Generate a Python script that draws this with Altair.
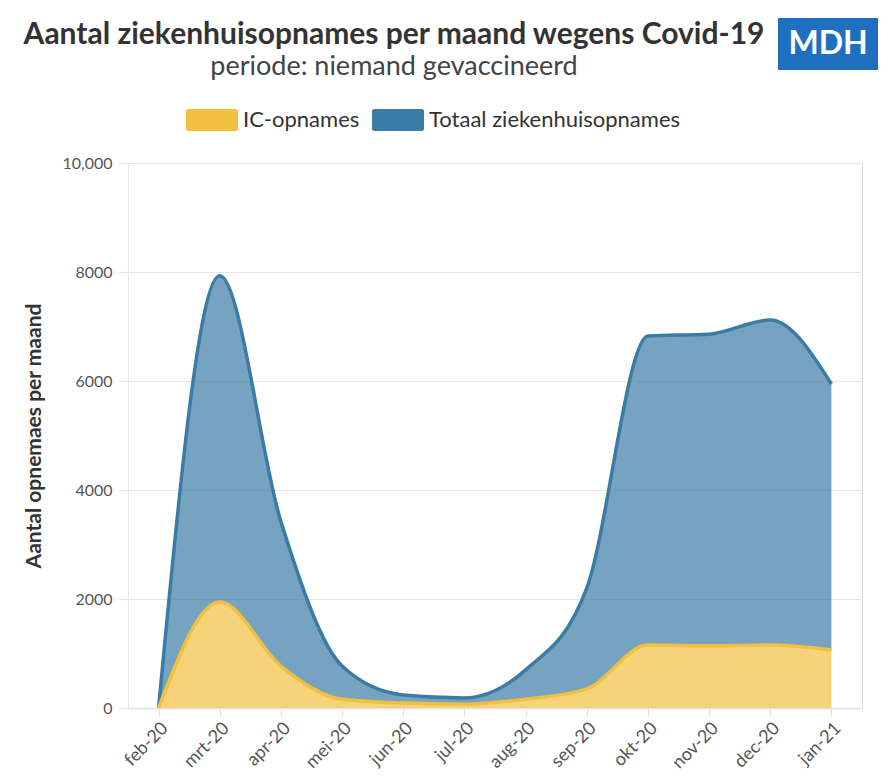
import altair as alt
import pandas as pd

months = ["feb-20", "mrt-20", "apr-20", "mei-20", "jun-20", "jul-20",
          "aug-20", "sep-20", "okt-20", "nov-20", "dec-20", "jan-21"]
totaal = [0, 7930, 3420, 770, 240, 185, 700, 2200, 6825, 6860, 7120, 5945]
ic = [0, 1945, 770, 160, 90, 70, 160, 350, 1155, 1140, 1155, 1065]

series_names = ["IC-opnames", "Totaal ziekenhuisopnames"]
colors = ["#f2c040", "#3a7ca5"]

rows = []
for m, t, i in zip(months, totaal, ic):
    rows.append({"maand": m, "serie": series_names[1], "waarde": t, "basis": i})
    rows.append({"maand": m, "serie": series_names[0], "waarde": i, "basis": 0})
df = pd.DataFrame(rows)

font = "Lato"
symbol_path = ("M-0.9,-0.42 L0.9,-0.42 Q1,-0.42 1,-0.32 L1,0.32 Q1,0.42 0.9,0.42 "
               "L-0.9,0.42 Q-1,0.42 -1,0.32 L-1,-0.32 Q-1,-0.42 -0.9,-0.42 Z")

x_enc = alt.X("maand:O", sort=months, title=None,
              scale=alt.Scale(type="point", padding=0.5),
              axis=alt.Axis(labelAngle=-45, labelFontSize=18, labelColor="#555555",
                            labelFont=font, tickColor="#dddddd", tickSize=8,
                            domainColor="#e6e6e6", domainWidth=2, labelPadding=3))
y_enc = alt.Y("waarde:Q", title="Aantal opnemaes per maand",
              scale=alt.Scale(domain=[0, 10000]),
              axis=alt.Axis(values=[0, 2000, 4000, 6000, 8000, 10000],
                            labelExpr="datum.value >= 10000 ? format(datum.value, ',') : format(datum.value, 'd')",
                            labelFontSize=16, labelColor="#555555", labelFont=font,
                            titleFont=font, titleFontSize=21, titleFontWeight="bold",
                            titleColor="#333333", titlePadding=17,
                            gridColor="#e6e6e6", tickColor="#e6e6e6", tickSize=10,
                            domainColor="#e6e6e6", labelPadding=6))
color_enc = alt.Color("serie:N",
                      scale=alt.Scale(domain=series_names, range=colors),
                      legend=alt.Legend(title=None, orient="none", direction="horizontal",
                                        legendX=58, legendY=-69, labelLimit=0,
                                        labelFont=font, labelFontSize=22, labelColor="#333333",
                                        symbolType=symbol_path,
                                        symbolSize=2704, symbolOpacity=1, symbolStrokeWidth=0,
                                        columnPadding=12, labelOffset=5))

base = alt.Chart(df)
area = base.mark_area(interpolate="monotone", fillOpacity=0.7, strokeWidth=0).encode(
    x=x_enc, y=y_enc, y2="basis:Q", color=color_enc, order=alt.Order("serie:N"))
line = base.mark_line(interpolate="monotone", strokeWidth=3.5).encode(
    x=alt.X("maand:O", sort=months), y="waarde:Q", color=alt.Color("serie:N"))

logo_df = pd.DataFrame({"tekst": ["MDH"]})
logo_rect = alt.Chart(logo_df).mark_rect(color="#1f6fbf").encode(
    x=alt.value(650), x2=alt.value(750), y=alt.value(-145), y2=alt.value(-93))
logo_text = alt.Chart(logo_df).mark_text(color="white", font=font, fontSize=32,
                                         fontWeight="bold").encode(
    x=alt.value(700), y=alt.value(-119), text="tekst:N")

chart = alt.layer(area, line, logo_rect, logo_text).properties(
    width=734, height=545,
    title=alt.TitleParams(
        text="Aantal ziekenhuisopnames per maand wegens Covid-19",
        subtitle="periode: niemand gevaccineerd",
        font=font, fontSize=30, fontWeight="bold", color="#333333",
        subtitleFont=font, subtitleFontSize=27, subtitleColor="#444444",
        anchor="middle", dx=-101, offset=-62, subtitlePadding=4),
    autosize=alt.AutoSizeParams(type="none"),
    padding={"left": 120, "top": 155, "right": 18, "bottom": 72},
).configure_view(stroke=None).configure(background="white")

chart.save("out.html", embed_options={"renderer": "svg", "actions": False})
